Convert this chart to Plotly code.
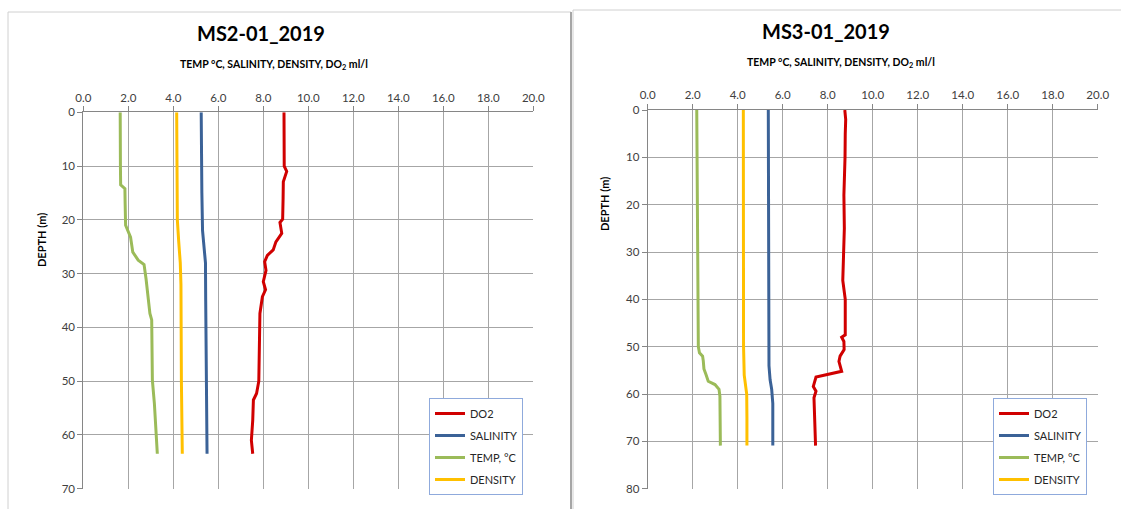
import plotly.graph_objects as go

W, H = 1121, 509

# ---------------- data ----------------
series_names = ["DO2", "SALINITY", "TEMP, °C", "DENSITY"]
series_colors = ["#D00000", "#3B6297", "#9BBB59", "#FFC000"]

x_ticks = [0, 2, 4, 6, 8, 10, 12, 14, 16, 18, 20]
ms2_depth_ticks = [0, 10, 20, 30, 40, 50, 60, 70]
ms3_depth_ticks = [0, 10, 20, 30, 40, 50, 60, 70, 80]

# MS2-01_2019
ms2_do2_depth = [0, 5, 10, 11, 12.9, 16, 19.9, 20.5, 21.5, 22.5, 24.1, 25.6, 26.6, 27.8, 29.4,
                 31.5, 33, 34.3, 37.4, 40, 45, 50, 52.3, 53.5, 57.3, 61, 63.5]
ms2_do2 = [8.92, 8.92, 8.93, 9.04, 8.89, 8.88, 8.86, 8.74, 8.77, 8.82, 8.56, 8.44, 8.18, 8.06, 8.12,
           8.0, 8.1, 7.96, 7.85, 7.84, 7.82, 7.8, 7.7, 7.56, 7.53, 7.47, 7.53]
ms2_sal_depth = [0, 10, 15, 22, 26, 28, 35, 50, 63.5]
ms2_sal = [5.24, 5.25, 5.27, 5.30, 5.38, 5.43, 5.44, 5.46, 5.50]
ms2_temp_depth = [0, 5, 10, 13.5, 14.2, 17, 21, 23.2, 24, 26, 27.5, 28.3, 31, 35, 36.5, 37.4,
                  38.6, 45, 49.8, 54.2, 59.2, 63.5]
ms2_temp = [1.64, 1.63, 1.65, 1.66, 1.85, 1.86, 1.88, 2.1, 2.12, 2.2, 2.44, 2.7, 2.79, 2.89, 2.93, 2.96,
            3.04, 3.06, 3.07, 3.16, 3.23, 3.29]
ms2_dens_depth = [0, 10, 20, 24, 28, 32, 40, 50, 63.5]
ms2_dens = [4.15, 4.16, 4.18, 4.24, 4.31, 4.34, 4.34, 4.36, 4.40]

# MS3-01_2019
ms3_do2_depth = [0, 2, 5, 10, 18, 25, 36, 40, 47.5, 48, 48.9, 50.6, 52, 53.1, 55.2, 55.6, 56.4,
                 58.4, 59.4, 60.8, 65, 70.9]
ms3_do2 = [8.76, 8.8, 8.78, 8.77, 8.72, 8.74, 8.67, 8.78, 8.78, 8.62, 8.72, 8.73, 8.55, 8.5, 8.62, 8.25, 7.48,
           7.36, 7.48, 7.39, 7.43, 7.46]
ms3_sal_depth = [0, 20, 40, 50, 54, 57, 59, 62, 70.9]
ms3_sal = [5.36, 5.36, 5.36, 5.36, 5.39, 5.44, 5.51, 5.56, 5.56]
ms3_temp_depth = [0, 20, 40, 50, 51.3, 52, 53, 54.7, 55.9, 57.3, 58, 59, 60.5, 65, 70.9]
ms3_temp = [2.18, 2.21, 2.22, 2.25, 2.3, 2.44, 2.47, 2.5, 2.59, 2.69, 2.99, 3.17, 3.21, 3.22, 3.23]
ms3_dens_depth = [0, 20, 40, 50, 56, 57.5, 60, 65, 70.9]
ms3_dens = [4.25, 4.25, 4.25, 4.26, 4.29, 4.34, 4.4, 4.41, 4.41]

stations = [
    dict(title="MS2-01_2019", ymax=70, yticks=ms2_depth_ticks,
         series=[(ms2_do2, ms2_do2_depth), (ms2_sal, ms2_sal_depth),
                 (ms2_temp, ms2_temp_depth), (ms2_dens, ms2_dens_depth)]),
    dict(title="MS3-01_2019", ymax=80, yticks=ms3_depth_ticks,
         series=[(ms3_do2, ms3_do2_depth), (ms3_sal, ms3_sal_depth),
                 (ms3_temp, ms3_temp_depth), (ms3_dens, ms3_dens_depth)]),
]

# ---------------- layout geometry (pixels) ----------------
px = lambda v: v / W
py = lambda v: 1 - v / H
plot_boxes = [
    dict(x0=83.3, x1=533.3, y0=112.3, y1=488.7, title_x=261, title_y=33, sub_x=274, sub_y=65,
         ylab_x=41, ylab_y=240, leg_x=429, leg_y=398),
    dict(x0=647.7, x1=1097.7, y0=110.0, y1=488.7, title_x=826, title_y=31, sub_x=841, sub_y=63,
         ylab_x=604, ylab_y=204, leg_x=993, leg_y=398),
]

FONT = "Lato, 'Open Sans', sans-serif"
fig = go.Figure()
layout = dict(
    width=W, height=H, margin=dict(l=0, r=0, t=0, b=0, autoexpand=False),
    paper_bgcolor="white", plot_bgcolor="white",
    font=dict(family=FONT, size=11, color="#404040"),
    showlegend=True, annotations=[], shapes=[],
)

for i, (st, box) in enumerate(zip(stations, plot_boxes)):
    xa = "xaxis" if i == 0 else f"xaxis{i+1}"
    ya = "yaxis" if i == 0 else f"yaxis{i+1}"
    xr = "x" if i == 0 else f"x{i+1}"
    yr = "y" if i == 0 else f"y{i+1}"
    lg = "legend" if i == 0 else f"legend{i+1}"
    for k, ((vals, depth), name, col) in enumerate(zip(st["series"], series_names, series_colors)):
        fig.add_trace(go.Scatter(
            x=vals, y=depth, mode="lines", name=name,
            line=dict(color=col, width=3),
            xaxis=xr, yaxis=yr, legend=lg, legendgroup=f"{lg}_{k}",
        ))
    layout[xa] = dict(
        domain=[px(box["x0"]), px(box["x1"])], anchor=yr, side="top",
        range=[0, 20], tickvals=x_ticks, ticktext=[f"{v:.1f}" for v in x_ticks],
        showgrid=True, gridcolor="#A6A6A6", gridwidth=1,
        showline=True, linecolor="#868686", linewidth=1,
        ticks="outside", ticklen=5, tickcolor="#868686",
        tickfont=dict(size=11.5, color="#404040"), zeroline=False, fixedrange=True,
        automargin=False,
    )
    layout[ya] = dict(
        domain=[py(box["y1"]), py(box["y0"])], anchor=xr,
        range=[st["ymax"], 0], tickvals=st["yticks"],
        showgrid=True, gridcolor="#A6A6A6", gridwidth=1,
        showline=True, linecolor="#868686", linewidth=1,
        ticks="outside", ticklen=5, tickcolor="#868686",
        tickfont=dict(size=11.5, color="#404040"), zeroline=False, fixedrange=True,
        automargin=False,
    )
    layout[lg] = dict(
        x=px(box["leg_x"]), y=py(box["leg_y"]), xanchor="left", yanchor="top",
        bgcolor="white", bordercolor="#8FAADC", borderwidth=1,
        font=dict(size=11, color="#262626", family=FONT),
        tracegroupgap=3, traceorder="grouped",
    )
    layout["annotations"] += [
        dict(text=f"<b>{st['title']}</b>", x=px(box["title_x"]), y=py(box["title_y"]),
             xref="paper", yref="paper", showarrow=False, xanchor="center", yanchor="middle",
             font=dict(size=20, color="#000000", family=FONT)),
        dict(text="<b>TEMP °C, SALINITY, DENSITY, DO<sub>2</sub> ml/l</b>",
             x=px(box["sub_x"]), y=py(box["sub_y"]),
             xref="paper", yref="paper", showarrow=False, xanchor="center", yanchor="middle",
             font=dict(size=10.5, color="#000000", family=FONT)),
        dict(text="<b>DEPTH (m)</b>", x=px(box["ylab_x"]), y=py(box["ylab_y"]),
             xref="paper", yref="paper", showarrow=False, textangle=-90,
             xanchor="center", yanchor="middle",
             font=dict(size=11, color="#000000", family=FONT)),
    ]

# chart frames
layout["shapes"] += [
    dict(type="rect", xref="paper", yref="paper", x0=px(8), x1=px(571), y0=py(520), y1=py(12),
         line=dict(color="#D0D0D0", width=1), layer="below"),
    dict(type="line", xref="paper", yref="paper", x0=px(571), x1=px(571), y0=py(520), y1=py(12),
         line=dict(color="#A6A6A6", width=2)),
    dict(type="rect", xref="paper", yref="paper", x0=px(573), x1=px(1130), y0=py(520), y1=py(10),
         line=dict(color="#D0D0D0", width=1), layer="below"),
]

fig.update_layout(**layout)
fig.write_html("out.html")
